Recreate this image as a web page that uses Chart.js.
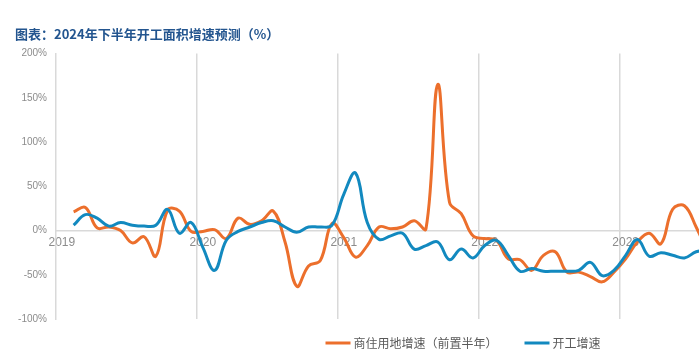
<!DOCTYPE html>
<html><head><meta charset="utf-8">
<script src="https://cdn.jsdelivr.net/npm/chart.js@4"></script>
<style>
html,body{margin:0;padding:0;overflow:hidden;background:#fff;width:699px;height:351px}
#wrap{width:926px;height:351px;position:relative}
</style></head>
<body><div id="wrap"><canvas id="c" width="926" height="351"></canvas></div>
<script>
const years = ['2019','2020','2021','2022','2023','2024','2025'];
const months = ['01','02','03','04','05','06','07','08','09','10','11','12'];
const categoryCount = 73;
const categories = [];
years.forEach(y => months.forEach(m => categories.push(y + '-' + m)));
categories.length = categoryCount;

const titleText = '图表：2024年下半年开工面积增速预测（%）';
const seriesNames = ['商住用地增速（前置半年）', '开工增速'];
const yTicks = [-100, -50, 0, 50, 100, 150, 200];

// 商住用地增速（前置半年）, % (from 2019-01)
const landGrowth = [null,21,26,3,4,0,-14,-7,-29,23,22,-1,
  -1,1,-9,14,7,11,22,-13,-63,-40,-34,8,
  -8,-30,-17,4,2,4,11,2,165,32,19,-6,
  -9,-11,-32,-33,-45,-28,-24,-47,-47,-52,-58,-47,
  -32,-13,-3,-15,24,28,4,-25];
// 开工增速, % (from 2019-01)
const startGrowth = [null,6,18,14,5,9,6,5,6,24,-3,9,
  -19,-45,-11,-1,4,9,11,4,-2,4,4,6,
  41,65,9,-10,-6,-3,-21,-17,-13,-33,-21,-31,
  -17,-11,-28,-46,-43,-46,-46,-46,-45,-36,-51,-45,
  -28,-10,-29,-25,-28,-31,-24,-22];

const ORANGE = '#EC6F2C';
const BLUE = '#1289BF';
const GRID = '#d9d9d9';
const TICK = '#8c8c8c';

const bottomLegend = {
  id: 'bottomLegend',
  afterDraw(chart) {
    const ctx = chart.ctx;
    const ds = chart.data.datasets;
    const font = "12px 'Noto Sans CJK SC'";
    ctx.save();
    ctx.font = font;
    const lineLen = 25, gapText = 3, gapItem = 27;
    const widths = ds.map(d => ctx.measureText(d.label).width);
    let total = 0;
    widths.forEach((w, i) => { total += lineLen + gapText + w + (i < widths.length - 1 ? gapItem : 0); });
    let x = 463 - total / 2;
    const y = 343;
    ds.forEach((d, i) => {
      ctx.strokeStyle = d.borderColor;
      ctx.lineWidth = 3;
      ctx.beginPath();
      ctx.moveTo(x, y);
      ctx.lineTo(x + lineLen, y);
      ctx.stroke();
      x += lineLen + gapText;
      ctx.fillStyle = '#595959';
      ctx.textBaseline = 'middle';
      ctx.textAlign = 'left';
      ctx.fillText(d.label, x, y);
      x += widths[i] + gapItem;
    });
    ctx.restore();
  }
};

new Chart(document.getElementById('c'), {
  type: 'line',
  data: {
    labels: categories,
    datasets: [
      {label: seriesNames[0], data: landGrowth, borderColor: ORANGE, backgroundColor: ORANGE,
       borderWidth: 3, pointRadius: 0, tension: 0.4, fill: false, order: 1},
      {label: seriesNames[1], data: startGrowth, borderColor: BLUE, backgroundColor: BLUE,
       borderWidth: 3, pointRadius: 0, tension: 0.4, fill: false, order: 0}
    ]
  },
  plugins: [bottomLegend],
  options: {
    responsive: false,
    animation: false,
    devicePixelRatio: 1,
    layout: {padding: {left: 15, right: 12, top: 0, bottom: 32}},
    plugins: {
      tooltip: {enabled: false},
      legend: {display: false},
      title: {display: true, text: titleText, align: 'start', color: '#23558F',
        font: {family: "'Noto Sans CJK SC'", size: 13, weight: 'bold'},
        padding: {top: 26, bottom: 12}}
    },
    scales: {
      x: {
        type: 'category', position: {y: 0}, offset: true,
        grid: {offset: true, drawTicks: false, lineWidth: 1.5,
          color: ctx => (ctx.index > 0 && ctx.index % 12 === 0) ? GRID : 'rgba(0,0,0,0)'},
        border: {display: true, color: GRID, width: 1.5},
        ticks: {autoSkip: false, maxRotation: 0, padding: 5, color: TICK,
          font: {family: "'Liberation Sans'", size: 12},
          callback: (v, i) => i % 12 === 0 ? categories[i].slice(0, 4) : ''}
      },
      y: {
        min: -100, max: 200,
        grid: {display: false, drawTicks: false},
        border: {display: true, color: GRID, width: 1.5},
        afterBuildTicks: s => { s.ticks = yTicks.map(v => ({value: v})); },
        afterFit: s => { s.width = 41; },
        ticks: {padding: 9, color: TICK, font: {family: "'Liberation Sans'", size: 10},
          callback: v => v + '%'}
      }
    }
  }
});
</script>
</body></html>
